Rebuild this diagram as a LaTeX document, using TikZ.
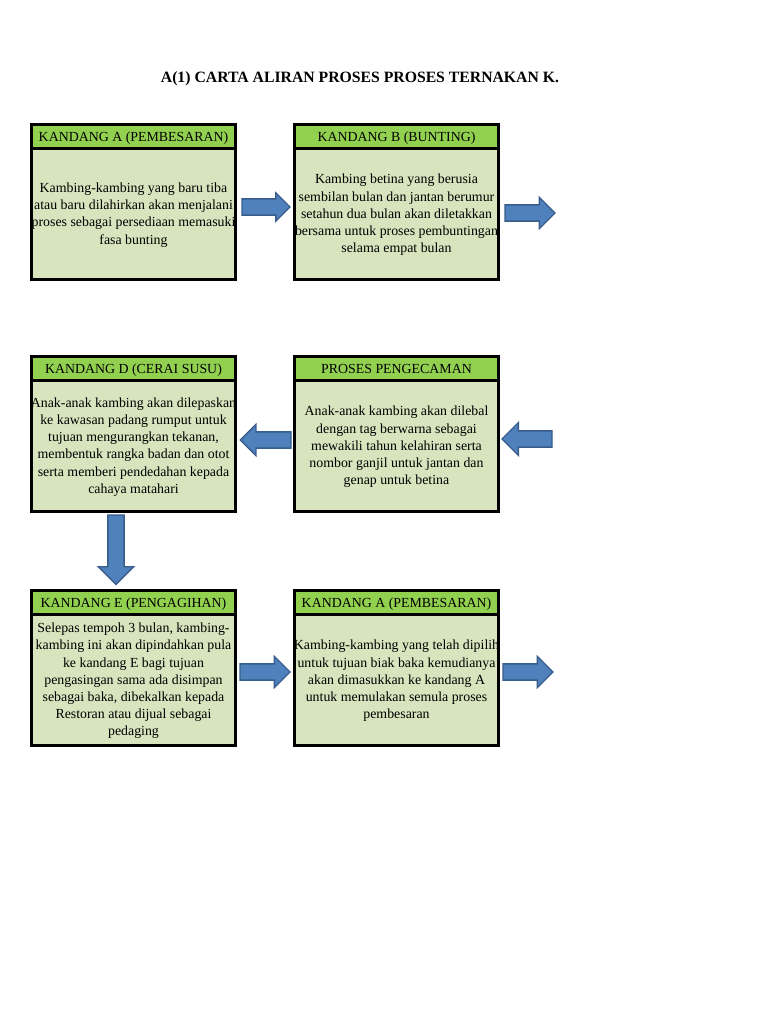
\documentclass[tikz,border=0pt]{standalone}
\usepackage{fontspec}
\setmainfont{Liberation Serif}
\usetikzlibrary{shapes.arrows,calc}
\definecolor{hdrgreen}{HTML}{92D050}
\definecolor{bodygreen}{HTML}{D7E4BD}
\definecolor{arrfill}{HTML}{4F81BD}
\definecolor{arrline}{HTML}{385D8A}
\tikzset{
 card/.style={draw=black, line width=2.25pt, fill=bodygreen, minimum width=153pt, minimum height=116.25pt, anchor=north west, inner sep=0pt, outer sep=0pt},
 hdrbar/.style={draw=black, line width=2.25pt, fill=hdrgreen},
 hdrtext/.style={font=\fontsize{10.4}{12}\selectfont, inner sep=0pt, anchor=base},
 bodytext/.style={font=\fontsize{10.4}{12.9}\selectfont, align=center, inner sep=0pt},
 titletext/.style={font=\fontsize{11.8}{14}\selectfont\bfseries, inner sep=0pt},
 blockarrow/.style={shape=single arrow, draw=arrline, line width=1pt, fill=arrfill, inner sep=5.6pt, outer sep=0pt, single arrow head indent=0pt, anchor=tail},
}
\newcommand\cardbox[5]{%
 \node[card] (#1) at (#2,#3) {};
 \coordinate (#1-hr) at ($(#1.north east)+(0,23.5)$);
 \draw[hdrbar] (#1.north west) rectangle (#1-hr);
 \node[hdrtext] (#1-title) at ($(#1.north)+(0,17)$) {#4};
 \node[bodytext] (#1-text) at ($(#1.north)+(0,90.5)$) {#5};
}
\begin{document}
\begin{tikzpicture}[x=0.75pt,y=-0.75pt]
\useasboundingbox[fill=white] (0,0) rectangle (768,1024);
\node[titletext] (title) at (360,79) {A(1) CARTA ALIRAN PROSES PROSES TERNAKAN K.};

\cardbox{ka}{31.5}{124.5}{KANDANG A (PEMBESARAN)}{Kambing-kambing yang baru tiba\\atau baru dilahirkan akan menjalani\\proses sebagai persediaan memasuki\\fasa bunting}
\cardbox{kb}{294.5}{124.5}{KANDANG B (BUNTING)}{Kambing betina yang berusia\\sembilan bulan dan jantan berumur\\setahun dua bulan akan diletakkan\\bersama untuk proses pembuntingan\\selama empat bulan}
\cardbox{kd}{31.5}{356.5}{KANDANG D (CERAI SUSU)}{Anak-anak kambing akan dilepaskan\\ke kawasan padang rumput untuk\\tujuan mengurangkan tekanan,\\membentuk rangka badan dan otot\\serta memberi pendedahan kepada\\cahaya matahari}
\cardbox{pp}{294.5}{356.5}{PROSES PENGECAMAN}{Anak-anak kambing akan dilebal\\dengan tag berwarna sebagai\\mewakili tahun kelahiran serta\\nombor ganjil untuk jantan dan\\genap untuk betina}
\cardbox{ke}{31.5}{590.5}{KANDANG E (PENGAGIHAN)}{Selepas tempoh 3 bulan, kambing-\\kambing ini akan dipindahkan pula\\ke kandang E bagi tujuan\\pengasingan sama ada disimpan\\sebagai baka, dibekalkan kepada\\Restoran atau dijual sebagai\\pedaging}
\cardbox{ka2}{294.5}{590.5}{KANDANG A (PEMBESARAN)}{Kambing-kambing yang telah dipilih\\untuk tujuan biak baka kemudianya\\akan dimasukkan ke kandang A\\untuk memulakan semula proses\\pembesaran}

% block arrows
\node[blockarrow, minimum height=36pt, single arrow head extend=4.5pt] (arAB) at (242,207) {};
\node[blockarrow, minimum height=37.5pt, single arrow head extend=5.6pt] (arB) at (505,213) {};
\node[blockarrow, shape border rotate=180, minimum height=38pt, single arrow head extend=5.6pt] (arPD) at (291,440) {};
\node[blockarrow, shape border rotate=180, minimum height=37.5pt, single arrow head extend=6.2pt] (arP) at (552,439) {};
\node[blockarrow, shape border rotate=270, minimum height=52pt, single arrow head extend=7.1pt] (arDE) at (116,515) {};
\node[blockarrow, minimum height=37.5pt, single arrow head extend=5.6pt] (arEA) at (240,672) {};
\node[blockarrow, minimum height=37.5pt, single arrow head extend=5.6pt] (arA) at (503,672) {};
\end{tikzpicture}
\end{document}
